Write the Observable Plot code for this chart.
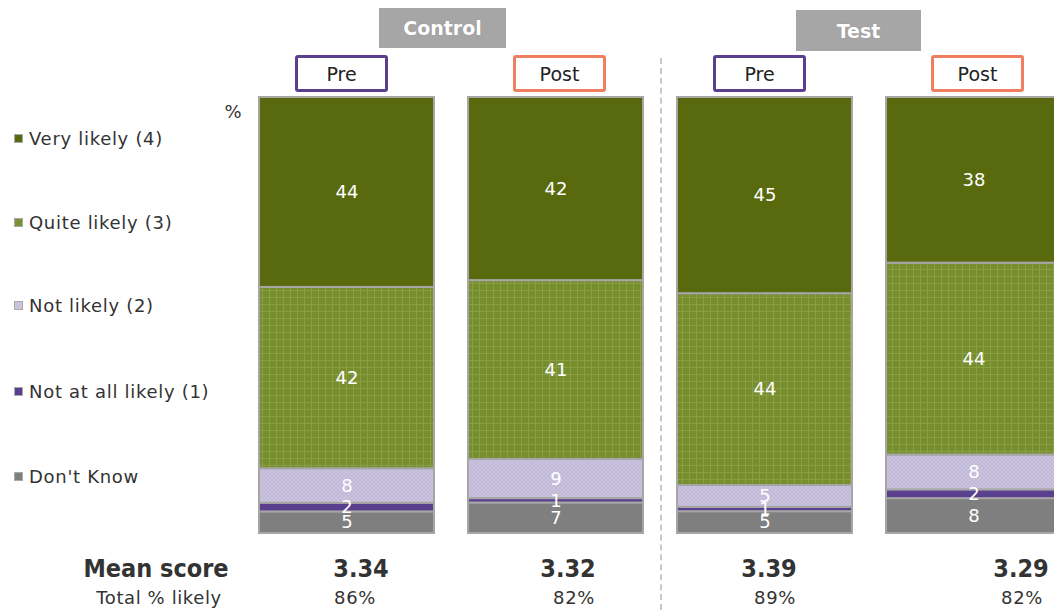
<!DOCTYPE html>
<html><head><meta charset="utf-8">
<script src="https://cdn.jsdelivr.net/npm/d3@7"></script>
<script src="https://cdn.jsdelivr.net/npm/@observablehq/plot@0.6"></script>
<style>
html,body{margin:0;padding:0;background:#fff;overflow:hidden;}
#wrap{position:relative;width:1054px;height:610px;font-family:"DejaVu Sans",Verdana,sans-serif;color:#333;}
#chart{position:absolute;left:0;top:0;}
.grp{position:absolute;background:#a6a6a6;color:#fff;font-weight:bold;font-size:19px;display:flex;align-items:center;justify-content:center;text-shadow:0 0 1px #888;}
.ph{position:absolute;box-sizing:border-box;border:3px solid;border-radius:3px;background:#fff;font-size:19px;display:flex;align-items:center;justify-content:center;color:#222;}
.leg{position:absolute;left:14px;font-size:18px;letter-spacing:0.7px;color:#333;display:flex;align-items:center;}
.leg i{display:inline-block;width:9px;height:9px;margin-right:6px;border:1px solid #aaa;box-sizing:border-box;}
.dash{position:absolute;left:660px;top:58px;height:552px;border-left:2px dashed #c8c8c8;}
.ms{position:absolute;font-family:"DejaVu Sans Condensed","DejaVu Sans",sans-serif;font-weight:bold;font-size:25px;color:#333;transform:translateX(-50%);}
.tl{position:absolute;font-family:"DejaVu Sans",sans-serif;font-size:18px;letter-spacing:0.6px;color:#333;transform:translateX(-50%);}
</style>
</head><body>
<div id="wrap">
  <div id="chart"></div>
</div>
<script>
// ---- data ----
const bars = ["Control Pre", "Control Post", "Test Pre", "Test Post"];
const groups = ["Control", "Test"];
const phases = ["Pre", "Post", "Pre", "Post"];
const categories = ["Don't Know", "Not at all likely (1)", "Not likely (2)", "Quite likely (3)", "Very likely (4)"];
const dontKnow   = [5, 7, 5, 8];
const notAtAll   = [2, 1, 1, 2];
const notLikely  = [8, 9, 5, 8];
const quiteLikely= [42, 41, 44, 44];
const veryLikely = [44, 42, 45, 38];
const meanScore  = ["3.34", "3.32", "3.39", "3.29"];
const totalLikely= ["86%", "82%", "89%", "82%"];
const legendOrder = ["Very likely (4)", "Quite likely (3)", "Not likely (2)", "Not at all likely (1)", "Don't Know"];

const series = [dontKnow, notAtAll, notLikely, quiteLikely, veryLikely];
const rows = [];
categories.forEach((c, ci) => bars.forEach((b, bi) => rows.push({bar: b, cat: c, value: series[ci][bi]})));

const fills = {
  "Don't Know": "#7f7f7f",
  "Not at all likely (1)": "#5b3f8f",
  "Not likely (2)": "url(#patNL)",
  "Quite likely (3)": "url(#patQL)",
  "Very likely (4)": "#596a0e"
};
const swatch = {
  "Don't Know": "#7f7f7f",
  "Not at all likely (1)": "#5b3f8f",
  "Not likely (2)": "#c9c3dd",
  "Quite likely (3)": "#7b9135",
  "Very likely (4)": "#596a0e"
};

const stackOpts = {x: "bar", y: "value", z: "cat", offset: "normalize"};

const plot = Plot.plot({
  width: 1054,
  height: 610,
  marginTop: 97,
  marginBottom: 77,
  marginLeft: 258,
  marginRight: 0,
  x: {domain: bars, range: [258, 1062], paddingInner: 34/209.5, paddingOuter: 0, axis: null},
  y: {domain: [0, 1], axis: null},
  style: {fontFamily: "DejaVu Sans, sans-serif", overflow: "visible"},
  marks: [
    Plot.barY(rows, Plot.stackY({...stackOpts, fill: d => fills[d.cat], stroke: "#a6a6a6", strokeWidth: 2})),
    Plot.text(rows, Plot.stackY({...stackOpts, text: "value", fill: "white", fontSize: 18})),
    Plot.text(["%"], {frameAnchor: "top-left", dx: -34, dy: 8, fontSize: 18, fill: "#333"})
  ]
});

// inject patterns
const svg = d3.select(plot);
const defs = svg.insert("defs", ":first-child");
const pq = defs.append("pattern").attr("id", "patQL").attr("patternUnits", "userSpaceOnUse").attr("width", 7).attr("height", 7);
pq.append("rect").attr("width", 7).attr("height", 7).attr("fill", "#778e2f");
pq.append("path").attr("d", "M3.5 0V7M0 3.5H7").attr("stroke", "#8ea44a").attr("stroke-width", 1).attr("opacity", 0.8);
const pn = defs.append("pattern").attr("id", "patNL").attr("patternUnits", "userSpaceOnUse").attr("width", 4).attr("height", 4);
pn.append("rect").attr("width", 4).attr("height", 4).attr("fill", "#cbc4de");
pn.append("path").attr("d", "M0 0L4 4M4 0L0 4").attr("stroke", "#b9b0d0").attr("stroke-width", 0.6);

const wrap = document.getElementById("wrap");
document.getElementById("chart").append(plot);

// group headers
const grpPos = [{l: 379, t: 8, w: 127, h: 40}, {l: 796, t: 10, w: 125, h: 41}];
groups.forEach((g, i) => {
  const d = document.createElement("div");
  d.className = "grp";
  Object.assign(d.style, {left: grpPos[i].l + "px", top: grpPos[i].t + "px", width: grpPos[i].w + "px", height: grpPos[i].h + "px"});
  d.textContent = g;
  wrap.append(d);
});
// phase boxes
const phaseLeft = [295, 513, 713, 931];
phases.forEach((p, i) => {
  const d = document.createElement("div");
  d.className = "ph";
  Object.assign(d.style, {left: phaseLeft[i] + "px", top: "55px", width: "93px", height: "37px", borderColor: p === "Pre" ? "#5b3f8f" : "#f07f5f"});
  d.textContent = p;
  wrap.append(d);
});
// dashed separator
const ds = document.createElement("div"); ds.className = "dash"; wrap.append(ds);
// legend
const legY = [138, 222, 305, 391, 476];
legendOrder.forEach((c, i) => {
  const d = document.createElement("div");
  d.className = "leg";
  d.style.top = (legY[i] - 11) + "px";
  d.style.height = "22px";
  d.innerHTML = `<i style="background:${swatch[c]}"></i>`;
  d.append(document.createTextNode(c));
  wrap.append(d);
});
// bottom rows
const msX = [361, 568, 769, 1021];
const tlX = [355, 574, 775, 1022];
const addText = (cls, txt, x, y) => {
  const d = document.createElement("div");
  d.className = cls; d.textContent = txt;
  d.style.left = x + "px"; d.style.top = y + "px";
  wrap.append(d);
};
addText("ms", "Mean score", 156, 554);
addText("tl", "Total % likely", 159, 587);
meanScore.forEach((v, i) => addText("ms", v, msX[i], 554));
totalLikely.forEach((v, i) => addText("tl", v, tlX[i], 587));
</script>
</body></html>
